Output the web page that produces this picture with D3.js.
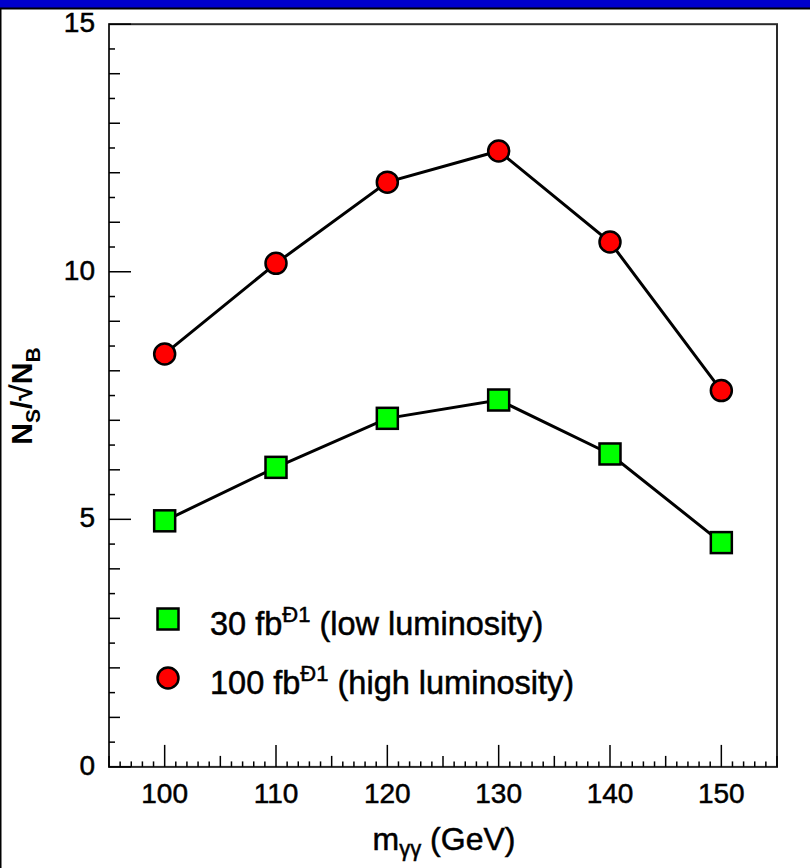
<!DOCTYPE html>
<html>
<head>
<meta charset="utf-8">
<script src="https://cdn.jsdelivr.net/npm/d3@7"></script>
<style>
  html, body { margin: 0; padding: 0; background: #fff; }
  svg { display: block; }
  text { font-family: "Liberation Sans", Arial, Helvetica, sans-serif; fill: #000; stroke: #000; stroke-width: 0.5px; }
</style>
</head>
<body>
<script>
// ---- data ----
const masses = [100, 110, 120, 130, 140, 150];
const lowLumi = [4.97, 6.05, 7.04, 7.41, 6.32, 4.53];      // 30 fb-1
const highLumi = [8.34, 10.17, 11.81, 12.44, 10.60, 7.60]; // 100 fb-1
const xTickLabels = [100, 110, 120, 130, 140, 150];
const yTickLabels = [0, 5, 10, 15];
const legendLabels = [
  { pre: "30 fb", sup: "Đ1", post: " (low luminosity)", shape: "square" },
  { pre: "100 fb", sup: "Đ1", post: " (high luminosity)", shape: "circle" }
];

const W = 810, H = 868;
const svg = d3.select("body").append("svg").attr("width", W).attr("height", H);

// page decoration (blue banner + left border)
svg.append("rect").attr("x", 0).attr("y", 0).attr("width", W).attr("height", 8).attr("fill", "#0000cc");
svg.append("rect").attr("x", 0).attr("y", 7.5).attr("width", W).attr("height", 2).attr("fill", "#000");
svg.append("rect").attr("x", 0).attr("y", 8).attr("width", 1.5).attr("height", H).attr("fill", "#000");

const x = d3.scaleLinear().domain([95, 155]).range([109, 777]);
const y = d3.scaleLinear().domain([0, 15]).range([766.9, 24.2]);

// frame
svg.append("rect")
  .attr("x", x(95)).attr("y", y(15))
  .attr("width", x(155) - x(95)).attr("height", y(0) - y(15))
  .attr("fill", "none").attr("stroke", "#2a2a2a").attr("stroke-width", 2);

// x ticks (inward, pointing up)
const xt = d3.range(95, 156, 1);
svg.append("g").selectAll("line").data(xt).join("line")
  .attr("x1", d => x(d)).attr("x2", d => x(d))
  .attr("y1", y(0))
  .attr("y2", d => y(0) - (d % 10 === 0 ? 22 : d % 5 === 0 ? 11 : 5.5))
  .attr("stroke", "#000").attr("stroke-width", 1.5);

// y ticks (inward, pointing right)
const yt = d3.range(0, 15.01, 0.5);
svg.append("g").selectAll("line").data(yt).join("line")
  .attr("y1", d => y(d)).attr("y2", d => y(d))
  .attr("x1", x(95))
  .attr("x2", d => x(95) + (d % 5 === 0 ? 22 : d % 1 === 0 ? 11 : 6))
  .attr("stroke", "#000").attr("stroke-width", 1.5);

// tick labels
svg.append("g").selectAll("text").data(xTickLabels).join("text")
  .attr("x", d => x(d)).attr("y", 803)
  .attr("text-anchor", "middle").attr("font-size", 28)
  .text(d => d);
svg.append("g").selectAll("text").data(yTickLabels).join("text")
  .attr("x", 95).attr("y", d => y(d) + 8)
  .attr("text-anchor", "end").attr("font-size", 28)
  .text(d => d);

// axis titles
const xt1 = svg.append("text").attr("x", 444).attr("y", 850)
  .attr("text-anchor", "middle").attr("font-size", 32);
xt1.append("tspan").text("m");
xt1.append("tspan").attr("font-size", 22).attr("dy", 6).text("γγ");
xt1.append("tspan").attr("dy", -6).text(" (GeV)");

const yt1 = svg.append("text")
  .attr("transform", "translate(32,396) rotate(-90)")
  .attr("text-anchor", "middle").attr("font-size", 30).attr("font-weight", "bold")
  .style("stroke-width", "0px");
yt1.append("tspan").text("N");
yt1.append("tspan").attr("font-size", 21).attr("dy", 8).text("S");
yt1.append("tspan").attr("dy", -8).text("/√N");
yt1.append("tspan").attr("font-size", 21).attr("dy", 8).text("B");

// lines
const line = d3.line().x(d => x(d[0])).y(d => y(d[1]));
const lowPts = masses.map((m, i) => [m, lowLumi[i]]);
const highPts = masses.map((m, i) => [m, highLumi[i]]);
svg.append("path").datum(lowPts).attr("d", line)
  .attr("fill", "none").attr("stroke", "#000").attr("stroke-width", 3);
svg.append("path").datum(highPts).attr("d", line)
  .attr("fill", "none").attr("stroke", "#000").attr("stroke-width", 3);

const SQ = 21, R = 10.5;
svg.append("g").selectAll("rect").data(lowPts).join("rect")
  .attr("x", d => x(d[0]) - SQ / 2).attr("y", d => y(d[1]) - SQ / 2)
  .attr("width", SQ).attr("height", SQ)
  .attr("fill", "#00ff00").attr("stroke", "#000").attr("stroke-width", 2.5);
svg.append("g").selectAll("circle").data(highPts).join("circle")
  .attr("cx", d => x(d[0])).attr("cy", d => y(d[1])).attr("r", R)
  .attr("fill", "#ff0000").attr("stroke", "#000").attr("stroke-width", 2.5);

// legend
const legY = [619, 678];
legendLabels.forEach((L, i) => {
  const cy = legY[i];
  if (L.shape === "square") {
    svg.append("rect").attr("x", 168 - SQ / 2).attr("y", cy - SQ / 2)
      .attr("width", SQ).attr("height", SQ)
      .attr("fill", "#00ff00").attr("stroke", "#000").attr("stroke-width", 2.5);
  } else {
    svg.append("circle").attr("cx", 168).attr("cy", cy).attr("r", R)
      .attr("fill", "#ff0000").attr("stroke", "#000").attr("stroke-width", 2.5);
  }
  const t = svg.append("text").attr("x", 210).attr("y", cy + 16).attr("font-size", 32.5);
  t.append("tspan").text(L.pre);
  t.append("tspan").attr("font-size", 22).attr("dy", -13).text(L.sup);
  t.append("tspan").attr("dy", 13).text(L.post);
});
</script>
</body>
</html>
